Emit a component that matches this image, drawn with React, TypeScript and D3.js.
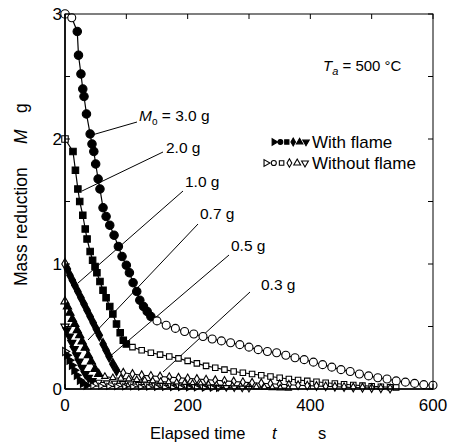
import React from "react";
import * as d3 from "d3";

const width = 452;
const height = 448;
const plot = { left: 65, right: 433, top: 14, bottom: 389 };
const font = "Liberation Sans, Arial, sans-serif";

// axis ticks
const xTicks = [0, 100, 200, 300, 400, 500, 600];
const xTickLabels = [0, 200, 400, 600];
const yTicks = [0, 0.5, 1, 1.5, 2, 2.5, 3];
const yTickLabels = [0, 1, 2, 3];

// initial masses (g)
const massLabels = ["3.0 g", "2.0 g", "1.0 g", "0.7 g", "0.5 g", "0.3 g"];

// elapsed time t (s) and mass reduction M (g) for each initial mass
const t30 = [0, 11, 20, 22, 26, 29, 31, 35, 41, 44, 47, 50, 54, 57, 62, 67, 73, 80, 87, 93, 100, 105, 111, 117, 122, 128, 134, 140,
  150, 165, 180, 195, 210, 225, 240, 255, 270, 285, 300, 315, 330, 345, 360, 375, 390, 405, 420, 435, 450, 465, 480, 495, 510, 525, 540, 555, 570, 585, 600];
const m30 = [3.0, 2.97, 2.86, 2.67, 2.52, 2.4, 2.34, 2.2, 2.04, 1.96, 1.9, 1.8, 1.68, 1.6, 1.45, 1.38, 1.31, 1.23, 1.14, 1.06, 0.99, 0.93, 0.85, 0.78, 0.71, 0.66, 0.62, 0.58,
  0.545, 0.51, 0.485, 0.46, 0.44, 0.42, 0.4, 0.385, 0.37, 0.355, 0.335, 0.315, 0.3, 0.29, 0.27, 0.25, 0.235, 0.215, 0.195, 0.175, 0.155, 0.14, 0.12, 0.105, 0.09, 0.08, 0.065, 0.055, 0.045, 0.035, 0.03];
const lit30 = [2, 27];

const t20 = [0, 13, 17, 21, 24, 29, 33, 36, 41, 45, 49, 52, 57, 62, 67, 73, 78, 84, 90, 95, 100,
  110, 125, 140, 155, 170, 185, 200, 215, 230, 245, 260, 275, 290, 305, 320, 335, 350, 365, 380, 395, 410, 425, 440, 455, 470, 485, 500, 515, 530, 540];
const m20 = [2.0, 1.9, 1.75, 1.6, 1.5, 1.39, 1.28, 1.2, 1.1, 1.03, 0.98, 0.93, 0.86, 0.79, 0.73, 0.66, 0.6, 0.52, 0.45, 0.39, 0.36,
  0.335, 0.31, 0.29, 0.275, 0.26, 0.245, 0.225, 0.205, 0.185, 0.17, 0.155, 0.14, 0.13, 0.12, 0.11, 0.1, 0.09, 0.08, 0.072, 0.065, 0.058, 0.05, 0.044, 0.038, 0.032, 0.027, 0.022, 0.018, 0.014, 0.012];
const lit20 = [1, 20];

const t10 = [0, 4, 8, 12, 16, 21, 26, 31, 36, 41, 46, 51, 56, 62, 67, 72, 78, 84,
  95, 110, 125, 140, 155, 170, 185, 200, 215, 230, 245, 260, 275, 290, 305, 320, 335, 350, 365, 380, 395, 410, 425, 440, 455, 470, 485, 500, 515, 530];
const m10 = [1.0, 0.96, 0.91, 0.87, 0.83, 0.78, 0.73, 0.68, 0.63, 0.58, 0.53, 0.48, 0.43, 0.36, 0.31, 0.26, 0.2, 0.15,
  0.13, 0.12, 0.11, 0.105, 0.1, 0.095, 0.09, 0.085, 0.08, 0.075, 0.07, 0.065, 0.06, 0.055, 0.05, 0.046, 0.042, 0.038, 0.034, 0.03, 0.027, 0.024, 0.021, 0.018, 0.015, 0.012, 0.01, 0.008, 0.006, 0.004];
const lit10 = [1, 17];

const t07 = [0, 4, 8, 12, 16, 20, 24, 28, 33, 38, 43, 49, 55,
  65, 78, 91, 104, 117, 130, 143, 156, 169, 182, 195, 208, 221, 234, 247, 260, 273, 286, 299, 312, 325, 338, 351, 364];
const m07 = [0.7, 0.66, 0.61, 0.56, 0.52, 0.47, 0.43, 0.38, 0.33, 0.27, 0.22, 0.16, 0.12,
  0.1, 0.09, 0.085, 0.08, 0.075, 0.07, 0.065, 0.06, 0.056, 0.052, 0.048, 0.044, 0.04, 0.036, 0.032, 0.028, 0.025, 0.022, 0.019, 0.016, 0.013, 0.01, 0.007, 0.005];
const lit07 = [1, 12];

const t05 = [0, 3, 7, 11, 15, 19, 23, 28, 33, 38, 44,
  55, 68, 81, 94, 107, 120, 133, 146, 159, 172, 185, 198, 211, 224, 237, 250, 263, 276, 289, 300];
const m05 = [0.5, 0.47, 0.42, 0.37, 0.32, 0.27, 0.22, 0.17, 0.12, 0.09, 0.065,
  0.055, 0.05, 0.047, 0.044, 0.041, 0.038, 0.035, 0.032, 0.03, 0.027, 0.025, 0.022, 0.02, 0.018, 0.016, 0.014, 0.012, 0.01, 0.008, 0.006];
const lit05 = [1, 10];

const t03 = [0, 3, 7, 11, 15, 19, 24, 29, 35,
  45, 58, 71, 84, 97, 110, 123, 136, 149, 162, 175, 188, 201, 214, 227, 240, 250];
const m03 = [0.3, 0.27, 0.23, 0.19, 0.15, 0.11, 0.07, 0.045, 0.03,
  0.025, 0.023, 0.021, 0.019, 0.018, 0.017, 0.016, 0.015, 0.014, 0.013, 0.012, 0.011, 0.01, 0.009, 0.008, 0.007, 0.006];
const lit03 = [1, 8];

const series = [
  { t: t30, m: m30, lit: lit30, type: d3.symbolCircle, rot: 0, size: 56, tail: 50 },
  { t: t20, m: m20, lit: lit20, type: d3.symbolSquare, rot: 0, size: 42, tail: 30 },
  { t: t10, m: m10, lit: lit10, type: d3.symbolDiamond, rot: 0, size: 36, tail: 22 },
  { t: t07, m: m07, lit: lit07, type: d3.symbolTriangle, rot: 0, size: 30, tail: 18 },
  { t: t05, m: m05, lit: lit05, type: d3.symbolTriangle, rot: 180, size: 30, tail: 18 },
  { t: t03, m: m03, lit: lit03, type: d3.symbolTriangle, rot: 90, size: 28, tail: 16 },
];

// legend symbol order, as printed
const legendOrder = [5, 0, 1, 2, 3, 4];

// label anchor (text start) and leader line ends, in pixels
const labelPos = [
  { x: 139, y: 121, lx1: 137, ly1: 122, lx2: 92, ly2: 135 },
  { x: 166, y: 153, lx1: 163, ly1: 152, lx2: 82, ly2: 191 },
  { x: 185, y: 187, lx1: 183, ly1: 191, lx2: 78, ly2: 283 },
  { x: 200, y: 219, lx1: 198, ly1: 224, lx2: 88, ly2: 340 },
  { x: 231, y: 251, lx1: 229, ly1: 255, lx2: 108, ly2: 358 },
  { x: 261, y: 290, lx1: 250, ly1: 292, lx2: 163, ly2: 372 },
];

const x = d3.scaleLinear().domain([0, 600]).range([plot.left, plot.right]);
const y = d3.scaleLinear().domain([0, 3]).range([plot.bottom, plot.top]);

const lineGen = d3.line<number>();

const Marker = ({ s, cx, cy, filled, size }: any) => (
  <path
    d={d3.symbol().type(s.type).size(size)() as string}
    transform={`translate(${cx},${cy}) rotate(${s.rot})`}
    fill={filled ? "#000" : "#fff"}
    stroke="#000"
    strokeWidth={1.1}
  />
);

export default function App() {
  return (
    <svg
      width={width}
      height={height}
      style={{ position: "absolute", left: 0, top: 0, background: "#fff" }}
      fontFamily={font}
    >
      <rect width={width} height={height} fill="#fff" />

      {/* leader lines */}
      {labelPos.map((p, i) => (
        <line key={"l" + i} x1={p.lx1} y1={p.ly1} x2={p.lx2} y2={p.ly2} stroke="#000" strokeWidth={1} />
      ))}

      {/* curves */}
      {series.map((s, k) => (
        <path
          key={"c" + k}
          d={lineGen(s.t.map((t, i) => [x(t), y(s.m[i])]) as any) as string}
          fill="none"
          stroke="#000"
          strokeWidth={1.2}
        />
      ))}
      {series.map((s, k) =>
        s.t.map((t, i) => {
          const lit = i >= s.lit[0] && i <= s.lit[1];
          return (
            <Marker
              key={`m${k}-${i}`}
              s={s}
              cx={x(t)}
              cy={y(s.m[i])}
              filled={lit}
              size={lit || i === 0 ? s.size : s.tail}
            />
          );
        })
      )}

      {/* frame */}
      <rect
        x={plot.left}
        y={plot.top}
        width={plot.right - plot.left}
        height={plot.bottom - plot.top}
        fill="none"
        stroke="#000"
        strokeWidth={1}
      />
      <line x1={plot.left} y1={plot.top} x2={plot.left} y2={plot.bottom} stroke="#000" strokeWidth={1.6} />
      <line x1={plot.left} y1={plot.bottom} x2={plot.right} y2={plot.bottom} stroke="#000" strokeWidth={1.6} />

      {/* ticks */}
      {xTicks.map((v) => (
        <g key={"xt" + v}>
          <line x1={x(v)} x2={x(v)} y1={plot.bottom} y2={plot.bottom - 5} stroke="#000" />
          <line x1={x(v)} x2={x(v)} y1={plot.top} y2={plot.top + 5} stroke="#000" />
        </g>
      ))}
      {yTicks.map((v) => (
        <g key={"yt" + v}>
          <line x1={plot.left} x2={plot.left + 5} y1={y(v)} y2={y(v)} stroke="#000" />
          <line x1={plot.right} x2={plot.right - 5} y1={y(v)} y2={y(v)} stroke="#000" />
        </g>
      ))}
      {xTickLabels.map((v) => (
        <text key={"xl" + v} x={x(v)} y={plot.bottom + 22} textAnchor="middle" fontSize={17}>
          {v}
        </text>
      ))}
      {yTickLabels.map((v) => (
        <text key={"yl" + v} x={plot.left - 3} y={y(v)} dy="0.35em" textAnchor="end" fontSize={17}>
          {v}
        </text>
      ))}

      {/* axis titles */}
      <text x={150} y={439} fontSize={16.5}>
        Elapsed time
      </text>
      <text x={272} y={439} fontSize={16.5} fontStyle="italic">
        t
      </text>
      <text x={318} y={439} fontSize={16.5}>
        s
      </text>
      <g transform="translate(27,0) rotate(-90)">
        <text x={-286} y={0} fontSize={17.5}>
          Mass reduction
        </text>
        <text x={-144} y={0} fontSize={17.5} fontStyle="italic">
          M
        </text>
        <text x={-113} y={0} fontSize={17.5}>
          g
        </text>
      </g>

      {/* mass labels */}
      {massLabels.map((lab, i) => (
        <text key={"ml" + i} x={labelPos[i].x} y={labelPos[i].y} fontSize={15.5}>
          {i === 0 ? (
            <>
              <tspan fontStyle="italic">M</tspan>
              <tspan fontSize={10} dy={4}>o</tspan>
              <tspan dy={-4}>{" = " + lab}</tspan>
            </>
          ) : (
            lab
          )}
        </text>
      ))}

      {/* ambient temperature */}
      <text x={323} y={71} fontSize={15}>
        <tspan fontStyle="italic">T</tspan>
        <tspan fontStyle="italic" fontSize={11} dy={4}>a</tspan>
        <tspan dy={-4}>{"  = 500 \u00B0C"}</tspan>
      </text>

      {/* legend */}
      {legendOrder.map((k, j) => (
        <Marker key={"lf" + j} s={series[k]} cx={274 + j * 6.4} cy={142} filled size={18} />
      ))}
      <text x={312} y={148} fontSize={17}>
        With flame
      </text>
      {legendOrder.map((k, j) => (
        <Marker key={"lo" + j} s={series[k]} cx={266 + j * 7.8} cy={163} filled={false} size={20} />
      ))}
      <text x={312} y={169} fontSize={17}>
        Without flame
      </text>
    </svg>
  );
}
